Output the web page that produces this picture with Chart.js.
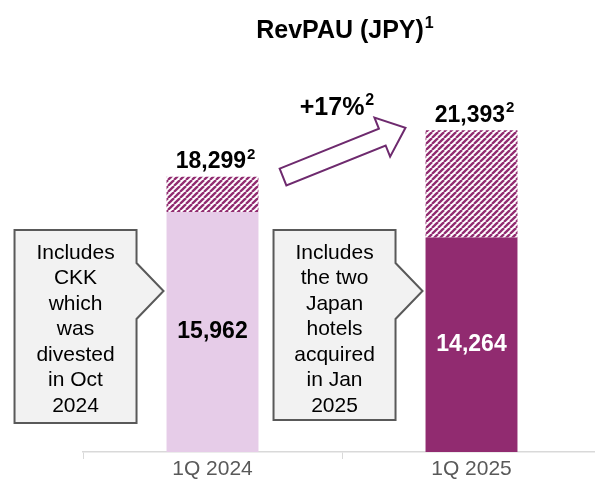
<!DOCTYPE html>
<html>
<head>
<meta charset="utf-8">
<script src="https://cdn.jsdelivr.net/npm/chart.js@4"></script>
<style>
  html, body { margin: 0; padding: 0; background: #fff; overflow: hidden; }
  #wrap { width: 610px; height: 486px; }
</style>
</head>
<body>
<div id="wrap"><canvas id="chart"></canvas></div>
<script>
// data
const categories = ['1Q 2024', '1Q 2025'];
const baseValues = [15962, 14264];      // solid part
const hatchedValues = [2337, 7129];     // hatched uplift part (total - solid)
const totalLabels = ['18,299', '21,393'];
const baseLabels = ['15,962', '14,264'];
const growthLabel = '+17%';
const notes = [
  ['Includes', 'CKK', 'which', 'was', 'divested', 'in Oct', '2024'],
  ['Includes', 'the two', 'Japan', 'hotels', 'acquired', 'in Jan', '2025']
];

const baseColors = ['#E6CCE8', '#912B70'];
const baseTextColors = ['#000000', '#ffffff'];
const FONT = '"Liberation Sans", Arial, sans-serif';

// diagonal stripes for the hatched part
function stripes(color) {
  const p = 6;
  const c = document.createElement('canvas');
  c.width = p; c.height = p;
  const g = c.getContext('2d');
  g.fillStyle = '#fff';
  g.fillRect(0, 0, p, p);
  g.strokeStyle = color;
  g.lineWidth = 2.3;
  for (let k = -1; k <= 1; k++) {
    g.beginPath();
    g.moveTo(k * p, p);
    g.lineTo(k * p + p, 0);
    g.stroke();
  }
  return g.createPattern(c, 'repeat');
}
const hatch = stripes('#912B70');

// bold text with an optional superscript, whole group centred on x
function textWithSup(ctx, txt, sup, x, y, size, sSize, color) {
  ctx.save();
  ctx.fillStyle = color;
  ctx.textBaseline = 'middle';
  ctx.textAlign = 'left';
  ctx.font = 'bold ' + size + 'px ' + FONT;
  const w1 = ctx.measureText(txt).width;
  ctx.font = 'bold ' + sSize + 'px ' + FONT;
  const w2 = sup ? ctx.measureText(sup).width + 1 : 0;
  const start = x - (w1 + w2) / 2;
  ctx.font = 'bold ' + size + 'px ' + FONT;
  ctx.fillText(txt, start, y);
  if (sup) {
    ctx.font = 'bold ' + sSize + 'px ' + FONT;
    ctx.fillText(sup, start + w1 + 1, y - size * 0.3);
  }
  ctx.restore();
}

function callout(ctx, left, top, right, bottom, tipX, tipY, lines) {
  ctx.save();
  ctx.beginPath();
  ctx.moveTo(left, top);
  ctx.lineTo(right, top);
  ctx.lineTo(right, tipY - 28);
  ctx.lineTo(tipX, tipY);
  ctx.lineTo(right, tipY + 28);
  ctx.lineTo(right, bottom);
  ctx.lineTo(left, bottom);
  ctx.closePath();
  ctx.fillStyle = '#F2F2F2';
  ctx.fill();
  ctx.strokeStyle = '#595959';
  ctx.lineWidth = 2;
  ctx.stroke();
  ctx.fillStyle = '#000';
  ctx.font = '21px ' + FONT;
  ctx.textAlign = 'center';
  ctx.textBaseline = 'middle';
  const cx = (left + right) / 2;
  lines.forEach((l, i) => ctx.fillText(l, cx, 253 + i * 25.5));
  ctx.restore();
}

const overlay = {
  id: 'overlay',
  afterDatasetsDraw(chart) {
    const ctx = chart.ctx;
    const base = chart.getDatasetMeta(0).data;
    const top = chart.getDatasetMeta(1).data;

    // title
    textWithSup(ctx, 'RevPAU (JPY)', '1', 345, 31, 25, 16, '#000');

    // value inside solid bars
    base.forEach((b, i) => {
      textWithSup(ctx, baseLabels[i], '', b.x, (b.y + b.base) / 2, 23, 15, baseTextColors[i]);
    });
    // totals above the bars
    top.forEach((b, i) => {
      textWithSup(ctx, totalLabels[i], '2', b.x + 3, b.y - 15, 23, 15, '#000');
    });

    // callouts to the left of each bar
    base.forEach((b, i) => {
      const bl = b.x - b.width / 2;
      callout(ctx, bl - 152, 230, bl - 30, i === 0 ? 423 : 420, bl - 3, 291, notes[i]);
    });

    // growth arrow
    ctx.save();
    ctx.translate(283, 177);
    ctx.rotate(Math.atan2(-49, 122));
    const L = 132;
    ctx.beginPath();
    ctx.moveTo(0, -9);
    ctx.lineTo(L - 25, -9);
    ctx.lineTo(L - 25, -21);
    ctx.lineTo(L, 0);
    ctx.lineTo(L - 25, 21);
    ctx.lineTo(L - 25, 9);
    ctx.lineTo(0, 9);
    ctx.closePath();
    ctx.fillStyle = '#fff';
    ctx.fill();
    ctx.strokeStyle = '#6E2A6E';
    ctx.lineWidth = 2;
    ctx.stroke();
    ctx.restore();
    textWithSup(ctx, growthLabel, '2', 337, 108, 25, 16, '#000');
  }
};

new Chart(document.getElementById('chart'), {
  type: 'bar',
  data: {
    labels: categories,
    datasets: [
      { data: baseValues, backgroundColor: baseColors, borderWidth: 0 },
      { data: hatchedValues, backgroundColor: hatch, borderWidth: 0 }
    ]
  },
  options: {
    responsive: true,
    maintainAspectRatio: false,
    animation: false,
    events: [],
    layout: { padding: { top: 76, left: 83, right: 9, bottom: 6 } },
    datasets: { bar: { barPercentage: 0.355, categoryPercentage: 1 } },
    plugins: { legend: { display: false }, tooltip: { enabled: false } },
    scales: {
      x: {
        stacked: true,
        grid: { drawOnChartArea: false, offset: true, color: '#D9D9D9', tickLength: 7 },
        border: { color: '#D9D9D9', width: 1.5 },
        ticks: { color: '#595959', font: { family: FONT, size: 21, lineHeight: 1 }, padding: 0 }
      },
      y: { stacked: true, display: false, min: 0, max: 25000 }
    }
  },
  plugins: [overlay]
});
</script>
</body>
</html>
